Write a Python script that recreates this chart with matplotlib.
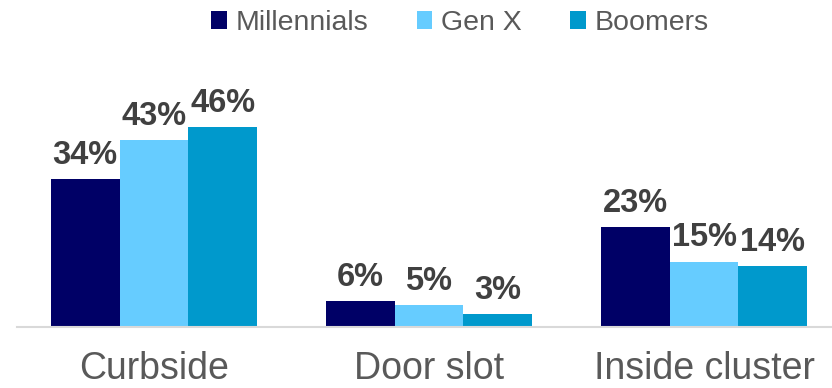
import matplotlib.pyplot as plt
import numpy as np
from matplotlib.patches import Patch

plt.rcParams['font.family'] = ['Liberation Sans', 'DejaVu Sans']

categories = ['Curbside', 'Door slot', 'Inside cluster']
series = ['Millennials', 'Gen X', 'Boomers']
millennials = [34, 6, 23]
gen_x = [43, 5, 15]
boomers = [46, 3, 14]
colors = ['#000066', '#66CCFF', '#0099CC']

fig = plt.figure(figsize=(8.32, 3.88), dpi=100)
ax = fig.add_axes([16.5 / 832, 61 / 388, 825 / 832, 277 / 388])

x = np.arange(len(categories))
w = 0.25
for i, (vals, col) in enumerate(zip([millennials, gen_x, boomers], colors)):
    pos = x + (i - 1) * w
    bars = ax.bar(pos, vals, w, color=col, edgecolor='none')
    for b, v in zip(bars, vals):
        ax.annotate(f'{v}%', (b.get_x() + b.get_width() / 2, v),
                    xytext=(0, 6), textcoords='offset points',
                    ha='center', va='bottom', fontsize=23.5,
                    fontweight='bold', color='#404040')

ax.set_xlim(-0.5, 2.5)
ax.set_ylim(0, 63.7)
ax.set_xticks(x)
ax.set_xticklabels(categories, fontsize=27, color='#595959')
ax.tick_params(axis='x', length=0, pad=17)
ax.set_yticks([])
for s in ['top', 'right', 'left']:
    ax.spines[s].set_visible(False)
ax.spines['bottom'].set_color('#d9d9d9')
ax.spines['bottom'].set_linewidth(1.5)

handles = [Patch(facecolor=c, edgecolor='none') for c in colors]
fig.legend(handles, series, loc='center', bbox_to_anchor=(460 / 832, 1 - 23 / 388),
           ncol=3, frameon=False, fontsize=20.5, labelcolor='#595959',
           handlelength=0.55, handleheight=0.55, handletextpad=0.3,
           columnspacing=1.7)

fig.savefig('out.png', dpi=100)
